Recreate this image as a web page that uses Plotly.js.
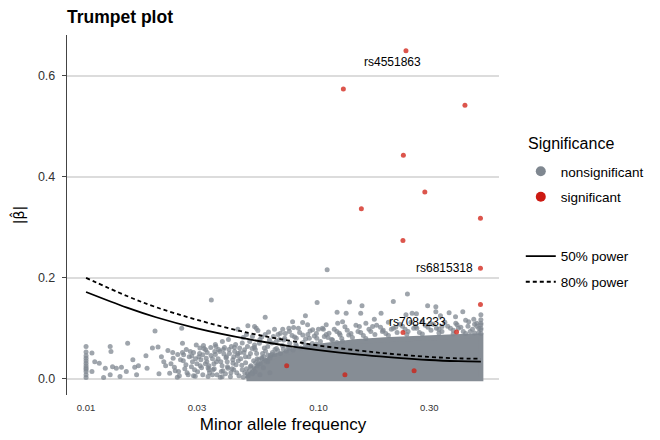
<!DOCTYPE html>
<html>
<head>
<meta charset="utf-8">
<script src="https://cdn.plot.ly/plotly-3.0.1.min.js"></script>
<style>
  body { margin: 0; background: #fff; }
  #chart { width: 660px; height: 440px; }
</style>
</head>
<body>
<div id="chart"></div>
<script>
// values (x = minor allele frequency, y = |beta|)

// scattered nonsignificant SNPs
var grayMaf = [
  0.01, 0.01, 0.01, 0.01, 0.01, 0.01, 0.01, 0.01, 0.01, 0.01, 0.01, 0.01,
  0.0106, 0.0106, 0.0109, 0.0114, 0.0119, 0.0121, 0.0127, 0.0128, 0.013, 0.0127,
  0.0135, 0.014, 0.0142, 0.0151, 0.0149, 0.0159, 0.0162, 0.0165, 0.0168, 0.0181,
  0.0183, 0.0193, 0.0198, 0.0204, 0.0206, 0.0211, 0.0216, 0.022, 0.0225, 0.0229,
  0.0237, 0.024, 0.0247, 0.025, 0.0255, 0.0258, 0.026, 0.0263, 0.0269, 0.0275,
  0.0281, 0.0287, 0.0293, 0.0298, 0.0306, 0.031, 0.0318, 0.0327, 0.0331, 0.0338,
  0.0346, 0.0987, 0.059, 0.1203, 0.1316, 0.0879, 0.0855, 0.0898, 0.0782, 0.0497,
  0.0531, 0.045, 0.0549, 0.0386, 0.0647, 0.0686, 0.0746, 0.0944, 0.100, 0.105,
  0.111, 0.121, 0.127, 0.123, 0.135, 0.0309, 0.0318, 0.0329, 0.0358, 0.0364,
  0.0376, 0.0402, 0.0422, 0.0436, 0.0458, 0.0481, 0.0429, 0.0408, 0.0382, 0.0352,
  0.0335, 0.0506, 0.0531, 0.0557, 0.0585, 0.0615, 0.0658, 0.0716, 0.0752, 0.0803,
  0.0856, 0.0914, 0.0984, 0.106, 0.115, 0.127, 0.109,
  0.2415, 0.136, 0.210, 0.295, 0.320, 0.365, 0.154, 0.0774, 0.174, 0.253,
  0.186, 0.389, 0.443, 0.48, 0.49, 0.054, 0.0702, 0.108, 0.150, 0.171,
  0.215, 0.303, 0.340, 0.395, 0.262, 0.1885, 0.32, 0.418, 0.50, 0.152,
  0.238, 0.264, 0.335, 0.466, 0.5, 0.5, 0.5,
  0.026, 0.0272, 0.0285, 0.0295, 0.030, 0.0312, 0.0322, 0.0335, 0.0345, 0.035,
  0.0355, 0.0362, 0.037, 0.0378, 0.0385, 0.0392, 0.0398, 0.0405, 0.0412, 0.0418,
  0.0425, 0.0432, 0.044, 0.0445, 0.0452, 0.046, 0.0468, 0.0475, 0.0485, 0.0495,
  0.051, 0.052, 0.0535, 0.0545, 0.056, 0.0575, 0.059, 0.0605, 0.062, 0.064,
  0.066, 0.068, 0.070, 0.072, 0.074, 0.077, 0.080, 0.083, 0.086, 0.090,
  0.094, 0.098, 0.102, 0.108, 0.114, 0.120, 0.126, 0.133, 0.140, 0.148,
  0.156, 0.165, 0.175, 0.185, 0.195, 0.206, 0.218, 0.230, 0.243, 0.257,
  0.272, 0.288, 0.305, 0.322, 0.340, 0.360, 0.380, 0.400, 0.420, 0.440,
  0.460, 0.480, 0.500, 0.500,
  0.036, 0.039, 0.041, 0.047, 0.049, 0.053, 0.057, 0.061, 0.063, 0.067,
  0.071, 0.075, 0.079, 0.082, 0.088, 0.092, 0.096, 0.104, 0.110, 0.117,
  0.124, 0.130, 0.138, 0.145, 0.152, 0.160, 0.168, 0.178, 0.190, 0.200,
  0.210, 0.224, 0.236, 0.250, 0.265, 0.280, 0.296, 0.312, 0.330, 0.350,
  0.370, 0.390, 0.410, 0.430, 0.450, 0.470, 0.490, 0.5, 0.28, 0.33,
  0.38, 0.43, 0.47, 0.20, 0.24, 0.16, 0.12, 0.09, 0.065, 0.045,
  0.0232, 0.0236, 0.0242, 0.0248, 0.0252, 0.0262, 0.0266, 0.0270, 0.0278, 0.0284,
  0.0290, 0.0296, 0.0302, 0.0308, 0.0314, 0.0320, 0.0326, 0.0332, 0.0340, 0.0344,
  0.0350, 0.0356, 0.0360, 0.0366, 0.0372, 0.0380, 0.0388, 0.0394, 0.0400, 0.0406,
  0.0414, 0.0420, 0.0428, 0.0435, 0.0442, 0.0448, 0.0455, 0.0463, 0.0470, 0.0478,
  0.0486, 0.0494, 0.0502, 0.0510, 0.0518, 0.0526, 0.0534, 0.0542, 0.0550, 0.0560,
  0.0570, 0.0580, 0.0592, 0.0605, 0.0618, 0.0632, 0.0290, 0.0338, 0.0385, 0.0432,
  0.0475, 0.0482, 0.0490, 0.0498, 0.0505, 0.0512, 0.0520, 0.0528, 0.0536, 0.0545,
  0.0553, 0.0562, 0.0572, 0.0582, 0.0594, 0.0606, 0.0620, 0.0634, 0.0650, 0.0668,
  0.0686, 0.0706, 0.0728, 0.0752, 0.0778, 0.0805, 0.0840, 0.0880, 0.0930, 0.0980
];
var grayBeta = [
  0.064, 0.053, 0.0455, 0.041, 0.036, 0.031, 0.0257, 0.022, 0.019, 0.0145, 0.008, 0.0026,
  0.051, 0.0145, 0.034, 0.031, 0.0026, 0.021, 0.064, 0.054, 0.024, 0.008,
  0.021, 0.0046, 0.023, 0.0707, 0.0145, 0.0376, 0.023, 0.008, 0.0257, 0.0455,
  0.021, 0.061, 0.095, 0.063, 0.0099, 0.044, 0.034, 0.0257, 0.056, 0.011,
  0.041, 0.023, 0.0033, 0.0145, 0.0376, 0.100, 0.0707, 0.0475, 0.0277, 0.008,
  0.054, 0.034, 0.018, 0.067, 0.044, 0.0257, 0.008, 0.0574, 0.034, 0.018,
  0.156, 0.151, 0.122, 0.132, 0.130, 0.125, 0.1115, 0.107, 0.1016, 0.105,
  0.1036, 0.098, 0.0956, 0.074, 0.098, 0.0905, 0.100, 0.097, 0.098, 0.098,
  0.0905, 0.110, 0.113, 0.0905, 0.087, 0.061, 0.0475, 0.041, 0.054, 0.034,
  0.054, 0.044, 0.064, 0.054, 0.061, 0.0574, 0.031, 0.021, 0.0145, 0.018,
  0.0046, 0.074, 0.067, 0.0707, 0.061, 0.077, 0.074, 0.0806, 0.0707, 0.0806,
  0.087, 0.0806, 0.0806, 0.0838, 0.077, 0.074, 0.216,
  0.168, 0.152, 0.153, 0.1446, 0.133, 0.131, 0.1446, 0.113, 0.118, 0.130,
  0.130, 0.123, 0.113, 0.110, 0.100, 0.100, 0.098, 0.107, 0.1036, 0.1036,
  0.1024, 0.110, 0.1036, 0.107, 0.1036, 0.0937, 0.143, 0.133, 0.127, 0.130,
  0.127, 0.129, 0.125, 0.118, 0.117, 0.107, 0.097,
  0.052, 0.012, 0.045, 0.005, 0.030, 0.038, 0.060, 0.022, 0.046, 0.008,
  0.030, 0.064, 0.040, 0.003, 0.026, 0.049, 0.010, 0.034, 0.058, 0.004,
  0.020, 0.044, 0.068, 0.012, 0.036, 0.052, 0.027, 0.082, 0.044, 0.064,
  0.050, 0.084, 0.058, 0.040, 0.078, 0.050, 0.088, 0.064, 0.046, 0.084,
  0.060, 0.078, 0.066, 0.090, 0.062, 0.086, 0.068, 0.092, 0.072, 0.088,
  0.070, 0.090, 0.074, 0.088, 0.078, 0.094, 0.080, 0.096, 0.082, 0.094,
  0.086, 0.098, 0.088, 0.102, 0.090, 0.098, 0.092, 0.104, 0.094, 0.100,
  0.092, 0.106, 0.096, 0.100, 0.094, 0.104, 0.096, 0.100, 0.094, 0.104,
  0.098, 0.104, 0.090, 0.110,
  0.068, 0.058, 0.078, 0.071, 0.088, 0.062, 0.083, 0.093, 0.071, 0.088,
  0.077, 0.094, 0.083, 0.100, 0.079, 0.095, 0.085, 0.100, 0.082, 0.098,
  0.087, 0.103, 0.090, 0.106, 0.092, 0.110, 0.094, 0.106, 0.096, 0.112,
  0.100, 0.108, 0.098, 0.112, 0.100, 0.114, 0.102, 0.108, 0.098, 0.112,
  0.100, 0.110, 0.102, 0.116, 0.094, 0.108, 0.092, 0.100, 0.089, 0.091,
  0.089, 0.090, 0.091, 0.086, 0.088, 0.080, 0.072, 0.066, 0.058, 0.050,
  0.030, 0.052, 0.016, 0.048, 0.006, 0.036, 0.020, 0.058, 0.044, 0.024,
  0.052, 0.040, 0.014, 0.050, 0.022, 0.066, 0.030, 0.052, 0.012, 0.062,
  0.040, 0.020, 0.048, 0.008, 0.058, 0.034, 0.016, 0.062, 0.042, 0.024,
  0.050, 0.012, 0.038, 0.062, 0.028, 0.046, 0.006, 0.040, 0.018, 0.052,
  0.032, 0.010, 0.044, 0.024, 0.060, 0.036, 0.014, 0.050, 0.030, 0.008,
  0.042, 0.022, 0.055, 0.034, 0.012, 0.048, 0.006, 0.026, 0.004, 0.018,
  0.003, 0.012, 0.020, 0.006, 0.016, 0.026, 0.010, 0.022, 0.032, 0.026,
  0.038, 0.030, 0.040, 0.044, 0.036, 0.047, 0.042, 0.052, 0.048, 0.056,
  0.050, 0.059, 0.055, 0.061, 0.057, 0.064, 0.061, 0.066, 0.064, 0.069
];

// outline of the solid mass of overlapping nonsignificant points
var coreMaf  = [0.049, 0.053, 0.058, 0.065, 0.074, 0.0829, 0.1061, 0.1427, 0.192, 0.2714, 0.3835, 0.5, 0.5, 0.049];
var coreBeta = [0, 0.018, 0.033, 0.045, 0.053, 0.059, 0.066, 0.0733, 0.0772, 0.0812, 0.0832, 0.0851, 0, 0];

// significant SNPs
var redMaf  = [0.238, 0.128, 0.427, 0.232, 0.287, 0.153, 0.498, 0.231, 0.498, 0.498, 0.231, 0.393, 0.258, 0.073, 0.130];
var redBeta = [0.650, 0.574, 0.542, 0.443, 0.370, 0.337, 0.318, 0.274, 0.219, 0.147, 0.092, 0.093, 0.016, 0.026, 0.008];

// power curves
var powerMaf = [0.01, 0.015, 0.02, 0.03, 0.05, 0.075, 0.1, 0.15, 0.2, 0.3, 0.4, 0.5];
var power50  = [0.172, 0.141, 0.122, 0.100, 0.0785, 0.065, 0.057, 0.048, 0.043, 0.0373, 0.035, 0.0342];
var power80  = [0.200, 0.164, 0.142, 0.117, 0.091, 0.0757, 0.066, 0.056, 0.050, 0.0434, 0.0406, 0.0398];

// labelled SNPs
var labelText = ["rs4551863", "rs6815318", "rs7084233"];
var labelMaf  = [0.208, 0.349, 0.266];
var labelBeta = [0.628, 0.219, 0.113];

var xTicks = [0.01, 0.03, 0.1, 0.3];
var xTickText = ["0.01", "0.03", "0.10", "0.30"];
var yTicks = [0, 0.2, 0.4, 0.6];
var yTickText = ["0.0", "0.2", "0.4", "0.6"];

var grey = "#7f8790";
var red = "#cc1a12";
var fontFam = "Liberation Sans, Arial, sans-serif";

var traces = [
  {
    x: coreMaf, y: coreBeta, type: "scatter", mode: "lines",
    fill: "toself", fillcolor: "#868d95",
    line: {color: "#868d95", width: 5},
    showlegend: false, hoverinfo: "skip"
  },
  {
    x: grayMaf, y: grayBeta, type: "scatter", mode: "markers",
    marker: {color: "rgba(127,135,144,0.75)", size: 5},
    showlegend: false
  },
  {
    x: redMaf, y: redBeta, type: "scatter", mode: "markers",
    marker: {color: "rgba(208,28,16,0.75)", size: 5},
    showlegend: false
  },
  {
    x: powerMaf, y: power50, type: "scatter", mode: "lines",
    line: {color: "#000", width: 1.8, shape: "spline"},
    name: "50% power", legend: "legend2", legendgroup: "p50"
  },
  {
    x: powerMaf, y: power80, type: "scatter", mode: "lines",
    line: {color: "#000", width: 1.8, dash: "4px,3px", shape: "spline"},
    name: "80% power", legend: "legend2", legendgroup: "p80"
  },
  // legend keys for the points
  {
    x: [null], y: [null], type: "scatter", mode: "markers",
    marker: {color: grey, size: 10},
    name: "nonsignificant", legend: "legend", legendgroup: "ns"
  },
  {
    x: [null], y: [null], type: "scatter", mode: "markers",
    marker: {color: red, size: 10},
    name: "significant", legend: "legend", legendgroup: "sig"
  }
];

var annotations = labelText.map(function(t, i) {
  return {
    x: Math.log10(labelMaf[i]), y: labelBeta[i], xref: "x", yref: "y",
    text: t, showarrow: false,
    font: {size: 12, color: "#000", family: fontFam}
  };
});
// legend title
annotations.push({
  x: (527 - 67) / 433, y: (395 - 143) / 360, xref: "paper", yref: "paper",
  xanchor: "left", yanchor: "middle",
  text: "Significance", showarrow: false,
  font: {size: 16, color: "#000", family: fontFam}
});

var layout = {
  width: 660,
  height: 440,
  margin: {l: 67, r: 160, t: 35, b: 45},
  paper_bgcolor: "#fff",
  plot_bgcolor: "#fff",
  font: {family: fontFam, color: "#333"},
  title: {
    text: "<b>Trumpet plot</b>",
    x: 67 / 660, xanchor: "left",
    y: 1 - 17 / 440, yanchor: "middle",
    font: {size: 17.5, color: "#000", family: fontFam}
  },
  xaxis: {
    type: "log",
    range: [-2.082, -0.223],
    tickvals: xTicks,
    ticktext: xTickText,
    tickfont: {size: 9.5, color: "#333"},
    showgrid: false,
    zeroline: false,
    showline: false,
    ticks: "",
    ticklabelstandoff: 5,
    title: {text: "Minor allele frequency", font: {size: 17, color: "#000"}, standoff: 6}
  },
  yaxis: {
    range: [-0.032, 0.681],
    tickvals: yTicks,
    ticktext: yTickText,
    tickfont: {size: 12.5, color: "#333"},
    showgrid: true,
    gridcolor: "#dcdcdc",
    gridwidth: 1.5,
    zeroline: false,
    showline: true,
    linecolor: "#444",
    linewidth: 1.2,
    ticks: "outside",
    ticklen: 4,
    tickcolor: "#444",
    ticklabelstandoff: 4,
    title: {text: "|β̂|", font: {size: 14, color: "#000", family: "DejaVu Sans"}, standoff: 10}
  },
  legend: {
    x: 1.048, xanchor: "left",
    y: 0.664, yanchor: "top",
    font: {size: 13.5, color: "#000"},
    tracegroupgap: 5,
    bgcolor: "rgba(0,0,0,0)"
  },
  legend2: {
    x: 1.048, xanchor: "left",
    y: 0.428, yanchor: "top",
    font: {size: 13.5, color: "#000"},
    tracegroupgap: 5,
    bgcolor: "rgba(0,0,0,0)"
  },
  annotations: annotations
};

Plotly.newPlot("chart", traces, layout, {displayModeBar: false, staticPlot: true});
</script>
</body>
</html>
